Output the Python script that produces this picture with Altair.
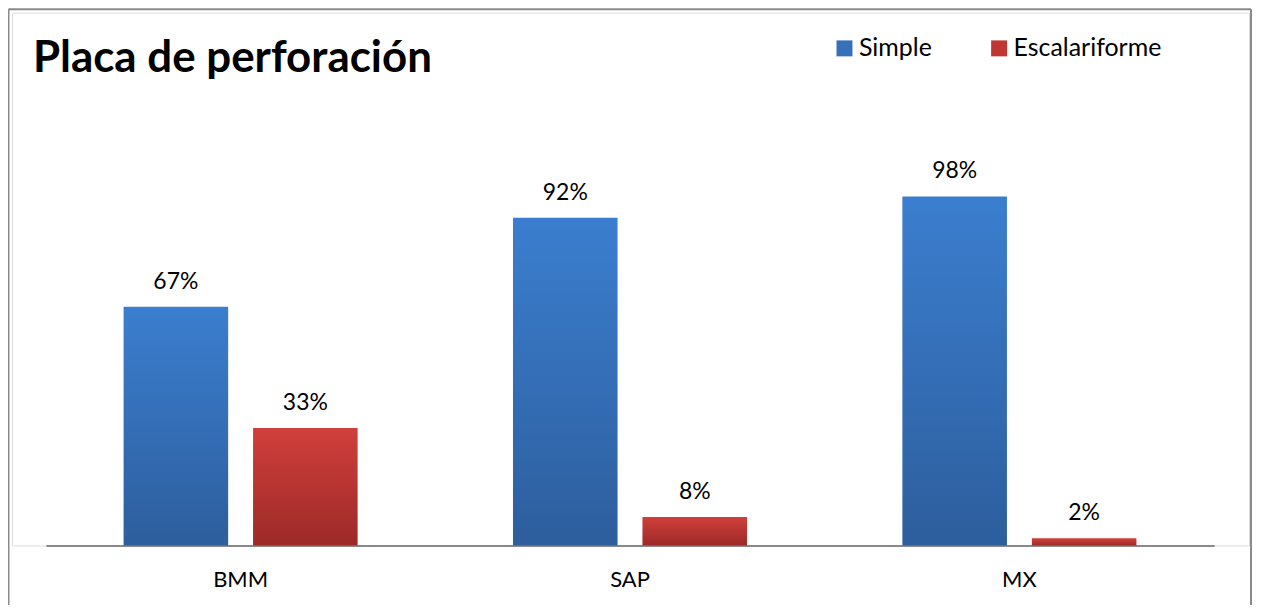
import altair as alt
import pandas as pd

categories = ["BMM", "SAP", "MX"]
series = ["Simple", "Escalariforme"]
simple = [0.67, 0.92, 0.98]
escalariforme = [0.33, 0.08, 0.02]
title_text = "Placa de perforación"

rows = []
for c, v in zip(categories, simple):
    rows.append({"cat": c, "series": "Simple", "value": v})
for c, v in zip(categories, escalariforme):
    rows.append({"cat": c, "series": "Escalariforme", "value": v})
df = pd.DataFrame(rows)

FONT = "Lato"
W, H = 1240, 534

x_enc = alt.X("cat:N", sort=categories, title=None,
              scale=alt.Scale(range=[34, 1205], paddingInner=0, paddingOuter=0),
              axis=alt.Axis(domainColor="#898989", domainWidth=2, ticks=False,
                            labelAngle=0, labelFontSize=22, labelFont=FONT,
                            labelColor="#000000", labelPadding=24, grid=False))
xo_enc = alt.XOffset("series:N", sort=series,
                     scale=alt.Scale(domain=series, paddingInner=0.1923, paddingOuter=0.6))
y_enc = alt.Y("value:Q", scale=alt.Scale(domain=[0, 1.496], nice=False), axis=None)

def grad(top, bottom):
    return alt.Gradient(gradient="linear",
                        stops=[alt.GradientStop(offset=0, color=top),
                               alt.GradientStop(offset=1, color=bottom)],
                        x1=0, x2=0, y1=0, y2=1)

base = alt.Chart(df)

bars_s = base.transform_filter(alt.datum.series == "Simple").mark_bar(
    color=grad("#3b7ecf", "#2d5e9d")).encode(x=x_enc, xOffset=xo_enc, y=y_enc)
bars_e = base.transform_filter(alt.datum.series == "Escalariforme").mark_bar(
    color=grad("#d03f3b", "#9c2a28")).encode(x=x_enc, xOffset=xo_enc, y=y_enc)

legend_layer = base.mark_point(shape="square", filled=True, opacity=0).encode(
    x=x_enc, xOffset=xo_enc, y=y_enc,
    color=alt.Color("series:N", sort=series,
                    scale=alt.Scale(domain=series, range=["#3670b9", "#bf3633"]),
                    legend=alt.Legend(title=None, orient="none", legendX=822, legendY=23,
                                      direction="horizontal", symbolType="square",
                                      symbolSize=256, symbolOpacity=1, symbolStrokeWidth=0,
                                      labelFontSize=25, labelFont=FONT, labelColor="#000000",
                                      labelOffset=2, columnPadding=54, padding=0)))

labels = base.mark_text(font=FONT, fontSize=23, color="#000000",
                        baseline="alphabetic", dy=-18).encode(
    x=x_enc, xOffset=xo_enc, y=y_enc, text=alt.Text("value:Q", format=".0%"))

title = alt.Chart(pd.DataFrame({"t": [title_text]})).mark_text(
    font=FONT, fontSize=44, fontWeight="bold", align="left", baseline="alphabetic",
    color="#000000").encode(text="t:N", x=alt.value(21), y=alt.value(59))

frame_col = "#8a8a8a"
frame_l = alt.Chart(pd.DataFrame({"a": [0]})).mark_rule(color=frame_col, strokeWidth=2).encode(
    x=alt.value(-3.5), y=alt.value(-3.5), y2=alt.value(600))
frame_r = alt.Chart(pd.DataFrame({"a": [0]})).mark_rule(color=frame_col, strokeWidth=2).encode(
    x=alt.value(1242), y=alt.value(-3.5), y2=alt.value(600))
frame_t = alt.Chart(pd.DataFrame({"a": [0]})).mark_rule(color=frame_col, strokeWidth=2).encode(
    x=alt.value(-3.5), x2=alt.value(1242), y=alt.value(-3.5))

chart = alt.layer(frame_l, frame_r, frame_t, bars_s, bars_e, legend_layer, labels, title).properties(
    width=W, height=H,
    autosize=alt.AutoSizeParams(type="none"),
    padding={"left": 4, "top": 4, "right": 4, "bottom": 59},
).configure_view(stroke=None).configure(background="#ffffff")

chart.save("out.html", embed_options={"renderer": "svg", "actions": False})
